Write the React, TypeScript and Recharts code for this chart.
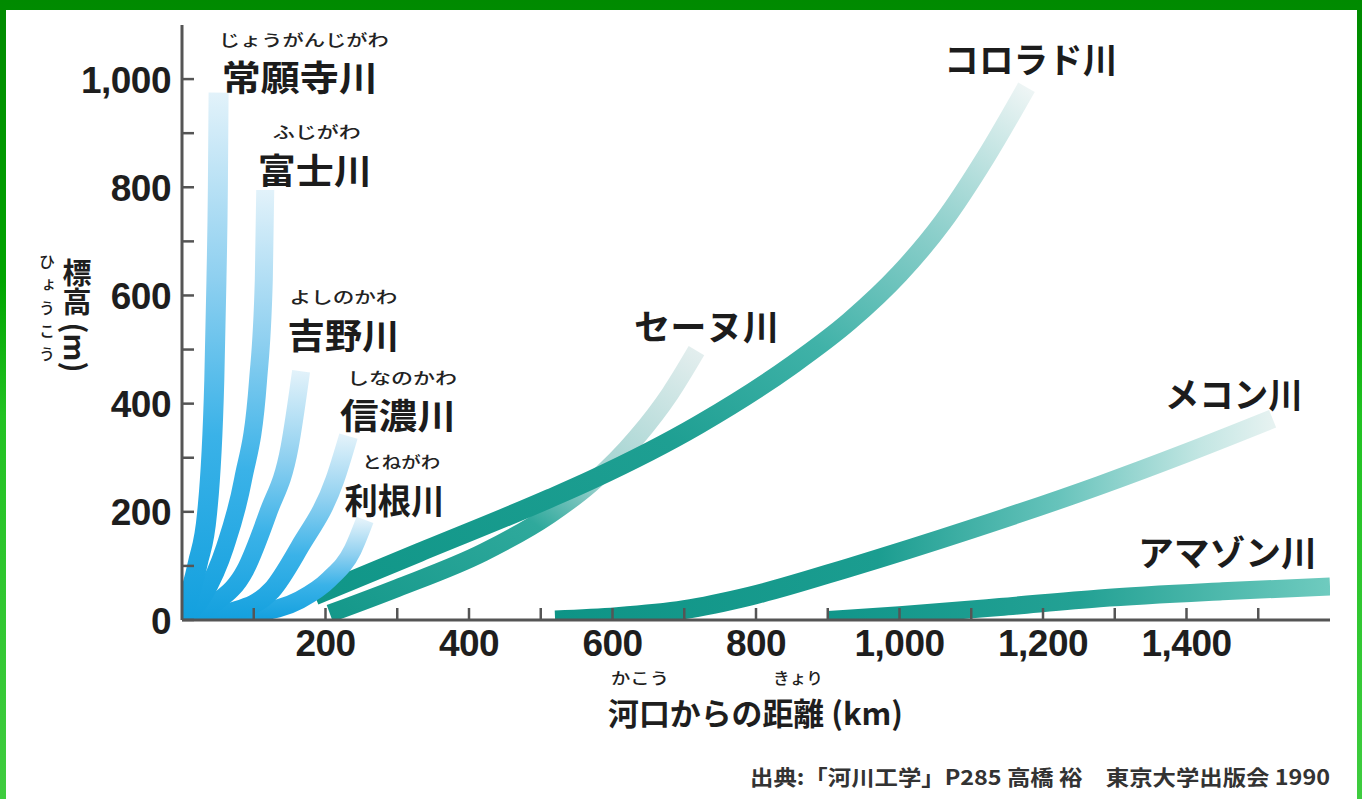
import { Line, LineChart, ReferenceDot, XAxis, YAxis } from 'recharts'

type Pt = { d: number; h: number }

// distance from river mouth (km) / elevation (m)
const joganji: Pt[] = [
  { d: 0, h: 0 }, { d: 22, h: 105 }, { d: 35, h: 198 }, { d: 45, h: 443 },
  { d: 48, h: 628 }, { d: 50, h: 800 }, { d: 51, h: 975 },
]
const fuji: Pt[] = [
  { d: 0, h: 0 }, { d: 30, h: 45 }, { d: 60, h: 135 }, { d: 85, h: 259 },
  { d: 106, h: 443 }, { d: 114, h: 628 }, { d: 116, h: 795 },
]
const yoshino: Pt[] = [
  { d: 0, h: 0 }, { d: 45, h: 30 }, { d: 88, h: 92 }, { d: 120, h: 198 },
  { d: 150, h: 320 }, { d: 166, h: 460 },
]
const shinano: Pt[] = [
  { d: 0, h: 0 }, { d: 70, h: 15 }, { d: 125, h: 55 }, { d: 164, h: 135 },
  { d: 213, h: 259 }, { d: 232, h: 340 },
]
const tone: Pt[] = [
  { d: 0, h: 0 }, { d: 100, h: 12 }, { d: 164, h: 37 }, { d: 205, h: 75 },
  { d: 238, h: 130 }, { d: 255, h: 185 },
]
const seine: Pt[] = [
  { d: 206, h: 12 }, { d: 300, h: 59 }, { d: 420, h: 125 }, { d: 513, h: 195 },
  { d: 570, h: 252 }, { d: 634, h: 338 }, { d: 680, h: 418 }, { d: 717, h: 498 },
]
const colorado: Pt[] = [
  { d: 185, h: 45 }, { d: 331, h: 125 }, { d: 513, h: 225 }, { d: 572, h: 260 },
  { d: 720, h: 361 }, { d: 850, h: 471 }, { d: 930, h: 552 }, { d: 1000, h: 640 },
  { d: 1060, h: 735 }, { d: 1120, h: 855 }, { d: 1177, h: 985 },
]
const mekong: Pt[] = [
  { d: 520, h: 0 }, { d: 606, h: 6 }, { d: 700, h: 19 }, { d: 791, h: 44 },
  { d: 930, h: 97 }, { d: 1100, h: 168 }, { d: 1279, h: 249 }, { d: 1400, h: 309 },
  { d: 1520, h: 372 },
]
const amazon: Pt[] = [
  { d: 900, h: 0 }, { d: 1000, h: 9 }, { d: 1140, h: 24 }, { d: 1279, h: 40 },
  { d: 1450, h: 53 }, { d: 1600, h: 62 },
]

const yTicks = [0, 100, 200, 300, 400, 500, 600, 700, 800, 900, 1000]
const xTicks = [100, 200, 300, 400, 500, 600, 700, 800, 900, 1000, 1100, 1200, 1300, 1400, 1500]

// drawing order: teal (world) rivers first, then the Japanese ones
const series = [
  { id: 'amazon', data: amazon, grad: 'amazon', w: 18 },
  { id: 'mekong', data: mekong, grad: 'mekong', w: 19 },
  { id: 'seine', data: seine, grad: 'seine', w: 18 },
  { id: 'colorado', data: colorado, grad: 'colorado', w: 19 },
  { id: 'tone', data: tone, grad: 'blue', w: 18 },
  { id: 'shinano', data: shinano, grad: 'blue', w: 19 },
  { id: 'yoshino', data: yoshino, grad: 'blue', w: 18 },
  { id: 'fuji', data: fuji, grad: 'blue', w: 18 },
  { id: 'joganji', data: joganji, grad: 'blue', w: 20 },
]

const gradients: Record<string, { dir: [number, number, number, number]; stops: [number, string][] }> = {
  blue: { dir: [0, 1, 0, 0], stops: [[0, '#13a0de'], [0.35, '#3ab2e8'], [0.65, '#8fd0f0'], [1, '#e2f2fa']] },
  colorado: { dir: [0, 1, 1, 0], stops: [[0, '#109688'], [0.4, '#1e9f92'], [0.6, '#40b2a8'], [0.8, '#8fd0cc'], [1, '#eef5f5']] },
  seine: { dir: [0, 1, 1, 0], stops: [[0, '#14988a'], [0.45, '#2fa99c'], [0.62, '#9fd2cf'], [1, '#e3eeee']] },
  mekong: { dir: [0, 0, 1, 0], stops: [[0, '#0e9486'], [0.45, '#1b9d90'], [0.7, '#66c3bb'], [0.9, '#c3e6e3'], [1, '#e6f2f1']] },
  amazon: { dir: [0, 0, 1, 0], stops: [[0, '#11968a'], [0.5, '#23a194'], [1, '#6fcbbf']] },
}

const riverLabels = [
  { text: '常願寺川', ruby: 'じょうがんじがわ', d: 164, h: 1006, w: 156, rw: 170, rdx: 4 },
  { text: '富士川', ruby: 'ふじがわ', d: 185, h: 835, w: 114, rw: 88, rdx: 2 },
  { text: '吉野川', ruby: 'よしのかわ', d: 225, h: 530, w: 112, rw: 108, rdx: 0 },
  { text: '信濃川', ruby: 'しなのかわ', d: 301, h: 381, w: 116, rw: 110, rdx: 4 },
  { text: '利根川', ruby: 'とねがわ', d: 296, h: 225, w: 100, rw: 78, rdx: 7 },
  { text: 'セーヌ川', ruby: '', d: 731, h: 547, w: 145, rw: 0, rdx: 0 },
  { text: 'コロラド川', ruby: '', d: 1183, h: 1039, w: 173, rw: 0, rdx: 0 },
  { text: 'メコン川', ruby: '', d: 1466, h: 420, w: 138, rw: 0, rdx: 0 },
  { text: 'アマゾン川', ruby: '', d: 1457, h: 129, w: 179, rw: 0, rdx: 0 },
]

const jp = '"Noto Sans CJK JP", "Noto Sans", sans-serif'
const num = '"Liberation Sans", Arial, sans-serif'
const axisGray = '#555'

const fmt = (v: number) => v.toLocaleString('en-US')

function YTick(props: any) {
  const { x, y, payload } = props
  const v = payload.value as number
  return (
    <g>
      <line x1={x} x2={x + 12} y1={y} y2={y} stroke={axisGray} strokeWidth={2.5} />
      {v % 200 === 0 && (
        <text x={x - 11} y={y + 1} textAnchor="end" dominantBaseline="central"
          fontFamily={num} fontWeight={700} fontSize={37} fill="#1e1e1e" letterSpacing={-0.5}>
          {fmt(v)}
        </text>
      )}
    </g>
  )
}

function XTick(props: any) {
  const { x, y, payload } = props
  const v = payload.value as number
  return (
    <g>
      <line x1={x} x2={x} y1={y} y2={y - 12} stroke={axisGray} strokeWidth={2.5} />
      {v % 200 === 0 && (
        <text x={x} y={y + 23} textAnchor="middle" dominantBaseline="central"
          fontFamily={num} fontWeight={700} fontSize={37} fill="#1e1e1e" letterSpacing={-0.5}>
          {fmt(v)}
        </text>
      )}
    </g>
  )
}

function RiverLabel({ cx, cy, lab }: { cx: number; cy: number; lab: (typeof riverLabels)[number] }) {
  return (
    <g>
      {lab.ruby && (
        <text x={cx + lab.rdx} y={cy - 37} textAnchor="middle" dominantBaseline="central"
          fontFamily={jp} fontWeight={500} fontSize={16} fill="#222"
          textLength={lab.rw} lengthAdjust="spacingAndGlyphs">
          {lab.ruby}
        </text>
      )}
      <text x={cx} y={cy} textAnchor="middle" dominantBaseline="central"
        fontFamily={jp} fontWeight={700} fontSize={35} fill="#1c1c1c"
        textLength={lab.w} lengthAdjust="spacingAndGlyphs">
        {lab.text}
      </text>
    </g>
  )
}

function Titles() {
  return (
    <g fontFamily={jp} fill="#1e1e1e">
      {/* y title, vertical writing */}
      <text x={47} y={254} style={{ writingMode: 'vertical-rl' }} fontSize={16} fontWeight={500} letterSpacing={7}>
        ひょうこう
      </text>
      <text x={77} y={258} style={{ writingMode: 'vertical-rl' }} fontSize={29} fontWeight={700}>
        標高 (m)
      </text>
      {/* x title */}
      <text x={640} y={677} textAnchor="middle" dominantBaseline="central" fontSize={16} fontWeight={500}
        textLength={58} lengthAdjust="spacingAndGlyphs">
        かこう
      </text>
      <text x={798} y={677} textAnchor="middle" dominantBaseline="central" fontSize={16} fontWeight={500}
        textLength={50} lengthAdjust="spacingAndGlyphs">
        きょり
      </text>
      <text x={608} y={711} dominantBaseline="central" fontSize={31} fontWeight={700}
        textLength={295} lengthAdjust="spacingAndGlyphs">
        河口からの距離 (km)
      </text>
      {/* source */}
      <text x={1330} y={776} textAnchor="end" dominantBaseline="central" fontSize={21} fontWeight={700}
        fill="#333" textLength={580} lengthAdjust="spacingAndGlyphs">
        出典:「河川工学」P285 高橋 裕　東京大学出版会 1990
      </text>
    </g>
  )
}

export default function App() {
  return (
    <div
      style={{
        position: 'absolute', left: 0, top: 0, width: 1362, height: 799, overflow: 'hidden',
        background: 'linear-gradient(180deg, #008a00 0%, #00a400 35%, #22c222 52%, #3fcc3f 100%)',
      }}
    >
      <div style={{ position: 'absolute', left: 6, top: 10, right: 5, bottom: 0, background: '#fff' }} />
      <div style={{ position: 'absolute', left: 0, top: 0 }}>
        <LineChart width={1362} height={799} margin={{ top: 25, right: 32, bottom: 129, left: 82 }}>
          <defs>
            {Object.entries(gradients).map(([id, g]) => (
              <linearGradient key={id} id={`grad-${id}`} x1={g.dir[0]} y1={g.dir[1]} x2={g.dir[2]} y2={g.dir[3]}>
                {g.stops.map(([o, c]) => (
                  <stop key={o} offset={o} stopColor={c} />
                ))}
              </linearGradient>
            ))}
          </defs>
          {series.map((s) => (
            <Line
              key={s.id}
              data={s.data}
              dataKey="h"
              type="monotone"
              stroke={`url(#grad-${s.grad})`}
              strokeWidth={s.w}
              dot={false}
              activeDot={false}
              isAnimationActive={false}
            />
          ))}
          <XAxis
            dataKey="d"
            type="number"
            domain={[0, 1600]}
            ticks={xTicks}
            interval={0}
            allowDataOverflow
            height={50}
            tickLine={false}
            tickSize={0}
            tickMargin={0}
            axisLine={{ stroke: axisGray, strokeWidth: 3 }}
            tick={XTick}
          />
          <YAxis
            type="number"
            domain={[0, 1100]}
            ticks={yTicks}
            interval={0}
            allowDataOverflow
            width={100}
            tickLine={false}
            tickSize={0}
            tickMargin={0}
            axisLine={{ stroke: axisGray, strokeWidth: 3 }}
            tick={YTick}
          />
          {riverLabels.map((lab) => (
            <ReferenceDot
              key={lab.text}
              x={lab.d}
              y={lab.h}
              r={0}
              shape={(p: any) => <RiverLabel cx={p.cx} cy={p.cy} lab={lab} />}
            />
          ))}
          <Titles />
        </LineChart>
      </div>
    </div>
  )
}
